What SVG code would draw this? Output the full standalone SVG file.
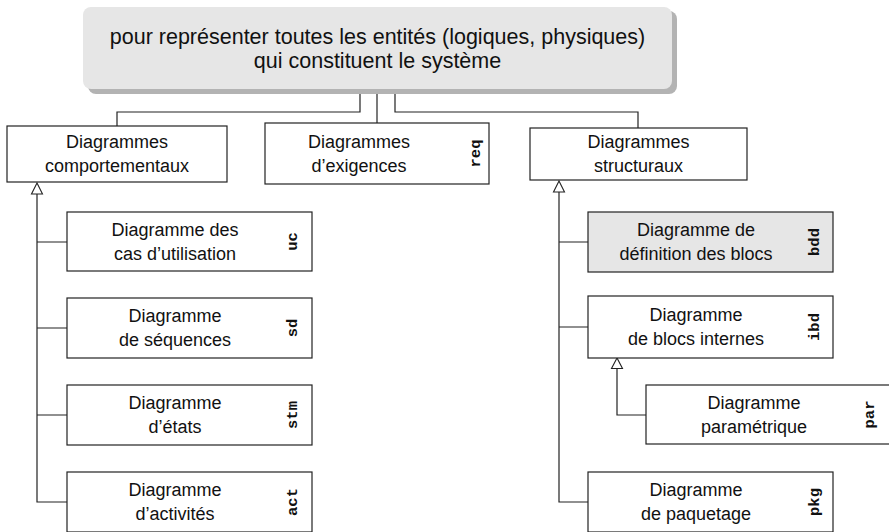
<svg xmlns="http://www.w3.org/2000/svg" width="889" height="532" viewBox="0 0 889 532">
<defs>
<style>
.box{fill:#ffffff;stroke:#222;stroke-width:1.2}
.gray{fill:#e6e6e6}
.t{font-family:"Liberation Sans",Arial,sans-serif;font-size:18px;fill:#111;text-anchor:middle}
.top{font-size:21.5px}
.tag{font-family:"Liberation Mono","Courier New",monospace;font-size:15.5px;font-weight:bold;fill:#111;text-anchor:middle}
.c{fill:none;stroke:#222;stroke-width:1.2}
.tri{fill:#fff;stroke:#222;stroke-width:1.1}
</style>
</defs>
<rect width="889" height="532" fill="#fff"/>

<g id="connectors">
<path class="c" d="M360,89 V112 H117 V126"/>
<path class="c" d="M377,89 V123"/>
<path class="c" d="M395,89 V112 H638 V128"/>
<path class="c" d="M37,194 V502 H67"/>
<path class="c" d="M37,242 H67 M37,328 H67 M37,415 H67"/>
<path class="c" d="M559,192 V502 H588"/>
<path class="c" d="M559,242 H588 M559,327 H588"/>
<path class="c" d="M617,368 V415 H646"/>
<polygon class="tri" points="37,183 31.5,194 42.5,194"/>
<polygon class="tri" points="559,181 553.5,192 564.5,192"/>
<polygon class="tri" points="617,358 611.5,368.5 622.5,368.5"/>
</g>

<g id="top">
<rect x="88" y="11" width="589" height="83" rx="8" fill="#b3b3b3"/>
<rect x="83" y="7" width="589" height="82" rx="8" fill="#e6e6e6"/>
<text class="t top" x="377.5" y="44">pour représenter toutes les entités (logiques, physiques)</text>
<text class="t top" x="377.5" y="68">qui constituent le système</text>
</g>

<g id="comportementaux">
<rect class="box" x="7" y="126" width="220" height="56"/>
<text class="t" x="117" y="148">Diagrammes</text>
<text class="t" x="117" y="172">comportementaux</text>
</g>

<g id="req">
<rect class="box" x="265" y="123" width="224" height="61"/>
<text class="t" x="359" y="148">Diagrammes</text>
<text class="t" x="359" y="172">d’exigences</text>
<text class="tag" transform="translate(480,153.5) rotate(-90)">req</text>
</g>

<g id="structuraux">
<rect class="box" x="530" y="128" width="217" height="52"/>
<text class="t" x="638.5" y="148">Diagrammes</text>
<text class="t" x="638.5" y="172">structuraux</text>
</g>

<g id="uc">
<rect class="box" x="67" y="212" width="245" height="59"/>
<text class="t" x="175" y="236">Diagramme des</text>
<text class="t" x="175" y="260">cas d’utilisation</text>
<text class="tag" transform="translate(297,241.5) rotate(-90)">uc</text>
</g>

<g id="sd">
<rect class="box" x="67" y="298" width="245" height="60"/>
<text class="t" x="175" y="322">Diagramme</text>
<text class="t" x="175" y="346">de séquences</text>
<text class="tag" transform="translate(297,328) rotate(-90)">sd</text>
</g>

<g id="stm">
<rect class="box" x="67" y="385" width="245" height="60"/>
<text class="t" x="175" y="409">Diagramme</text>
<text class="t" x="175" y="433">d’états</text>
<text class="tag" transform="translate(297,415) rotate(-90)">stm</text>
</g>

<g id="act">
<rect class="box" x="67" y="472" width="245" height="60"/>
<text class="t" x="175" y="496">Diagramme</text>
<text class="t" x="175" y="520">d’activités</text>
<text class="tag" transform="translate(297,502) rotate(-90)">act</text>
</g>

<g id="bdd">
<rect class="box gray" x="588" y="212" width="245" height="60"/>
<text class="t" x="696" y="236">Diagramme de</text>
<text class="t" x="696" y="260">définition des blocs</text>
<text class="tag" transform="translate(819,242) rotate(-90)">bdd</text>
</g>

<g id="ibd">
<rect class="box" x="588" y="296" width="245" height="62"/>
<text class="t" x="696" y="321">Diagramme</text>
<text class="t" x="696" y="345">de blocs internes</text>
<text class="tag" transform="translate(819,327) rotate(-90)">ibd</text>
</g>

<g id="par">
<rect class="box" x="646" y="385" width="245" height="59"/>
<text class="t" x="754" y="409">Diagramme</text>
<text class="t" x="754" y="433">paramétrique</text>
<text class="tag" transform="translate(874,414.5) rotate(-90)">par</text>
</g>

<g id="pkg">
<rect class="box" x="588" y="472" width="245" height="60"/>
<text class="t" x="696" y="496">Diagramme</text>
<text class="t" x="696" y="520">de paquetage</text>
<text class="tag" transform="translate(819,502) rotate(-90)">pkg</text>
</g>
</svg>
